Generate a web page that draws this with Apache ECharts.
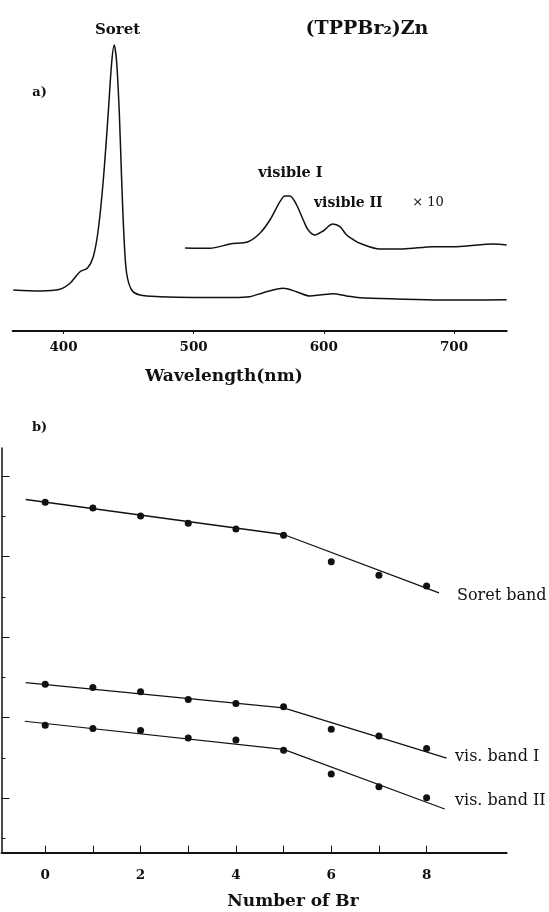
<!DOCTYPE html>
<html>
<head>
<meta charset="utf-8">
<script src="https://cdn.jsdelivr.net/npm/echarts@6/dist/echarts.min.js"></script>
<style>
  html, body { margin: 0; padding: 0; background: #fff; }
  #chart { width: 549px; height: 912px; }
</style>
</head>
<body>
<div id="chart"></div>
<script>
  // a) absorption spectrum (arbitrary absorbance units)
  const mainNm  = [361.4, 382, 397.3, 405, 412.7, 418.3, 422.9, 426.7, 430.6, 434.4, 437, 439, 440.9, 442.9, 444.7, 446.5, 448.5, 452.4, 458.8, 474.1, 500, 530, 543.2, 553.5, 568.8, 579.1, 589.3, 598, 607.2, 617.5, 627.7, 655.9, 690, 712.2, 740.4];
  const mainAbs = [0.41, 0.40, 0.417, 0.477, 0.593, 0.627, 0.743, 1.01, 1.51, 2.18, 2.68, 2.86, 2.68, 2.18, 1.51, 0.94, 0.58, 0.41, 0.36, 0.343, 0.335, 0.335, 0.343, 0.383, 0.427, 0.393, 0.35, 0.362, 0.372, 0.35, 0.333, 0.32, 0.31, 0.31, 0.313];
  // x10 expanded visible region
  const x10Nm  = [493.4, 512.5, 527.9, 541.9, 550.9, 558.6, 566.3, 570.1, 574, 579.1, 584.2, 588, 593.2, 599.5, 606.8, 612.4, 617.5, 622, 627.7, 643.1, 660.8, 683.8, 702, 730.1, 740.4];
  const x10Abs = [0.83, 0.827, 0.87, 0.893, 0.977, 1.11, 1.293, 1.35, 1.35, 1.26, 1.11, 1.01, 0.96, 1.0, 1.07, 1.043, 0.96, 0.92, 0.877, 0.82, 0.82, 0.843, 0.843, 0.87, 0.86];
  const wlTicks = [400, 500, 600, 700];

  // b) band position vs number of Br (arbitrary units)
  const nBr = [0, 1, 2, 3, 4, 5, 6, 7, 8];
  const soretBand = [9.35, 9.21, 9.01, 8.83, 8.69, 8.53, 7.87, 7.54, 7.27];
  const visBandI  = [4.83, 4.75, 4.64, 4.45, 4.35, 4.27, 3.71, 3.54, 3.23];
  const visBandII = [3.81, 3.73, 3.68, 3.49, 3.44, 3.19, 2.60, 2.28, 2.01];
  const soretFitX = [-0.41, 5, 8.26], soretFitY = [9.42, 8.55, 7.10];
  const visIFitX  = [-0.41, 5, 8.42], visIFitY  = [4.87, 4.24, 2.99];
  const visIIFitX = [-0.43, 5, 8.38], visIIFitY = [3.91, 3.21, 1.73];
  const brTicks = [0, 1, 2, 3, 4, 5, 6, 7, 8];
  const brLabels = [0, 2, 4, 6, 8];

  const zip = (a, b) => a.map((v, i) => [v, b[i]]);
  const ink = '#111';
  const serif = '"DejaVu Serif", "Liberation Serif", serif';

  function txt(x, y, text, font, align) {
    return {
      type: 'text', x: x, y: y,
      style: {
        text: text, font: font, fill: ink,
        align: align || 'center', textAlign: align || 'center',
        verticalAlign: 'middle', textVerticalAlign: 'middle'
      }
    };
  }

  const chart = echarts.init(document.getElementById('chart'));
  chart.setOption({
    backgroundColor: '#fff',
    animation: false,
    grid: [
      { left: 12.7, top: 40, width: 494, height: 291 },
      { left: 1.5, top: 448, width: 505.2, height: 404.7 }
    ],
    xAxis: [
      {
        type: 'value', gridIndex: 0, min: 361, max: 740.5,
        axisLine: { show: true, onZero: false, lineStyle: { color: ink, width: 2 } },
        axisTick: { show: true, customValues: wlTicks, length: 3, lineStyle: { color: ink, width: 1 } },
        axisLabel: { customValues: wlTicks, color: ink, fontFamily: serif, fontWeight: 'bold', fontSize: 13.5, margin: 9 },
        splitLine: { show: false }
      },
      {
        type: 'value', gridIndex: 1, min: -0.917, max: 9.68,
        axisLine: { show: true, onZero: false, lineStyle: { color: ink, width: 1.8 } },
        axisTick: { show: true, inside: true, customValues: brTicks, length: 7, lineStyle: { color: ink, width: 1 } },
        axisLabel: { customValues: brLabels, color: ink, fontFamily: serif, fontWeight: 'bold', fontSize: 13.5, margin: 16 },
        splitLine: { show: false }
      }
    ],
    yAxis: [
      { type: 'value', gridIndex: 0, min: 0, max: 2.91, show: false },
      {
        type: 'value', gridIndex: 1, min: 0.642, max: 10.7, position: 'left', offset: 0,
        axisLine: { show: true, onZero: false, lineStyle: { color: ink, width: 1.5 } },
        axisTick: { show: true, inside: true, customValues: [2, 4, 6, 8, 10], length: 8, lineStyle: { color: ink, width: 1 } },
        axisLabel: { show: false },
        splitLine: { show: false }
      },
      {
        type: 'value', gridIndex: 1, min: 0.642, max: 10.7, position: 'left', offset: 0,
        axisLine: { show: false, onZero: false },
        axisTick: { show: true, inside: true, customValues: [1, 3, 5, 7, 9], length: 4, lineStyle: { color: ink, width: 1 } },
        axisLabel: { show: false },
        splitLine: { show: false }
      }
    ],
    series: [
      {
        name: 'spectrum', type: 'line', xAxisIndex: 0, yAxisIndex: 0,
        data: zip(mainNm, mainAbs), showSymbol: false, smooth: 0.3,
        lineStyle: { color: ink, width: 1.5 }
      },
      {
        name: 'x10', type: 'line', xAxisIndex: 0, yAxisIndex: 0,
        data: zip(x10Nm, x10Abs), showSymbol: false, smooth: 0.3,
        lineStyle: { color: ink, width: 1.5 }
      },
      { name: 'Soret fit', type: 'line', xAxisIndex: 1, yAxisIndex: 1, data: zip(soretFitX, soretFitY), showSymbol: false, lineStyle: { color: ink, width: 1.3 } },
      { name: 'vis I fit', type: 'line', xAxisIndex: 1, yAxisIndex: 1, data: zip(visIFitX, visIFitY), showSymbol: false, lineStyle: { color: ink, width: 1.3 } },
      { name: 'vis II fit', type: 'line', xAxisIndex: 1, yAxisIndex: 1, data: zip(visIIFitX, visIIFitY), showSymbol: false, lineStyle: { color: ink, width: 1.1 } },
      { name: 'Soret band', type: 'scatter', xAxisIndex: 1, yAxisIndex: 1, data: zip(nBr, soretBand), symbolSize: 7, itemStyle: { color: ink, opacity: 1 } },
      { name: 'vis. band I', type: 'scatter', xAxisIndex: 1, yAxisIndex: 1, data: zip(nBr, visBandI), symbolSize: 7, itemStyle: { color: ink, opacity: 1 } },
      { name: 'vis. band II', type: 'scatter', xAxisIndex: 1, yAxisIndex: 1, data: zip(nBr, visBandII), symbolSize: 7, itemStyle: { color: ink, opacity: 1 } }
    ],
    graphic: [
      txt(117.5, 30, 'Soret', 'bold 15px ' + serif),
      txt(367, 29, '(TPPBr₂)Zn', 'bold 19px ' + serif),
      txt(39.5, 92.5, 'a)', 'bold 13px ' + serif),
      txt(290.5, 173, 'visible I', 'bold 14.5px ' + serif),
      txt(348.3, 203, 'visible II', 'bold 14px ' + serif),
      txt(428, 203, '× 10', '13px ' + serif),
      txt(224, 377, 'Wavelength(nm)', 'bold 17px ' + serif),
      txt(39.6, 427.5, 'b)', 'bold 13px ' + serif),
      txt(457, 596, 'Soret band', '16px ' + serif, 'left'),
      txt(455, 756.7, 'vis. band I', '16px ' + serif, 'left'),
      txt(455, 801, 'vis. band II', '16px ' + serif, 'left'),
      txt(293, 902, 'Number of Br', 'bold 17px ' + serif)
    ]
  });
</script>
</body>
</html>
